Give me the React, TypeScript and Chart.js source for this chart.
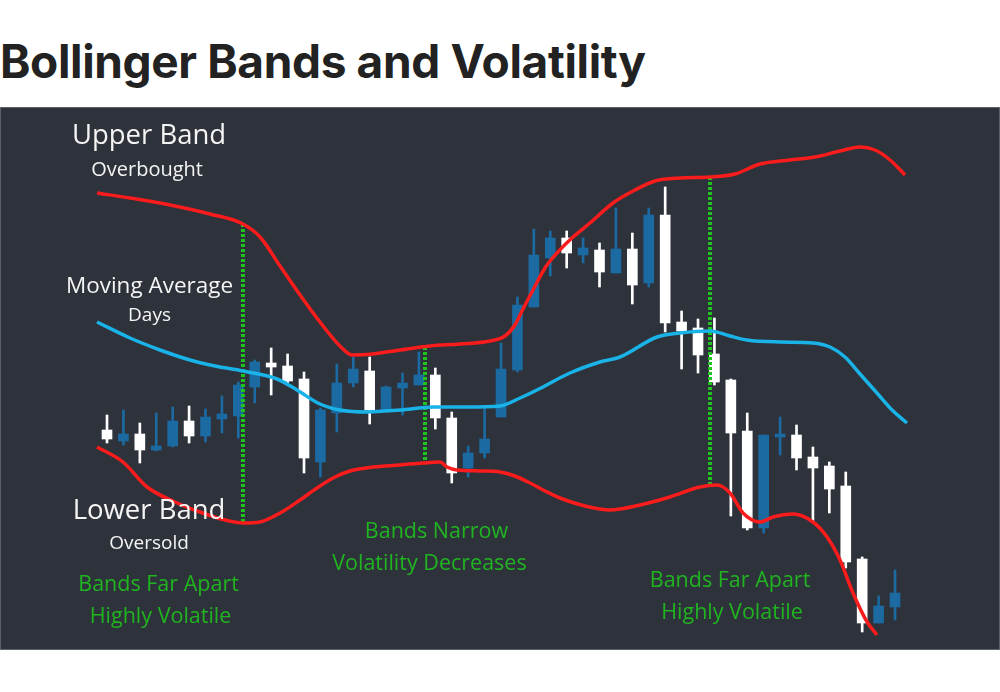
import React, { useEffect, useRef } from "react";
import { Chart, registerables } from "chart.js";

Chart.register(...registerables);

// ---- Candles (one per session, index 0..48) ----
const open = [44.0, 41.8, 43.2, 40.0, 40.8, 45.8, 42.8, 46.2, 46.8, 52.6, 57.4, 56.8, 54.2, 37.6, 47.4, 53.4, 55.8, 48.0, 52.4, 53.0, 55.0, 46.4, 36.4, 39.4, 46.6, 56.0, 68.6, 78.4, 82.4, 79.0, 80.0, 75.4, 80.2, 73.4, 87.0, 65.6, 64.4, 59.2, 54.0, 43.8, 24.4, 42.6, 43.0, 38.6, 36.8, 32.8, 18.2, 5.4, 8.6];
const close = [42.2, 43.2, 40.0, 40.8, 45.8, 42.8, 46.6, 47.2, 53.0, 57.6, 56.6, 53.8, 38.4, 48.0, 53.4, 56.2, 48.0, 52.6, 53.4, 55.0, 46.4, 35.4, 39.4, 42.2, 56.2, 69.0, 79.0, 82.4, 79.4, 80.4, 75.6, 80.2, 73.0, 87.0, 65.4, 63.8, 59.0, 53.6, 43.4, 24.4, 43.0, 43.2, 38.4, 36.4, 32.2, 17.6, 5.4, 8.8, 11.4];
const high = [47.0, 48.0, 45.4, 47.4, 48.6, 48.8, 48.2, 50.8, 53.6, 58.0, 60.4, 59.2, 55.6, 48.4, 57.2, 58.6, 58.6, 52.8, 55.4, 59.6, 56.4, 47.6, 40.8, 48.4, 61.4, 70.6, 84.2, 83.8, 83.8, 82.4, 81.4, 88.4, 83.4, 88.4, 92.6, 67.8, 66.2, 66.4, 54.2, 47.4, 43.0, 46.6, 45.0, 40.6, 37.6, 35.6, 18.6, 10.8, 16.0];
const low = [41.4, 41.0, 37.4, 39.8, 40.6, 41.4, 41.6, 43.4, 42.4, 49.4, 51.0, 53.0, 35.4, 34.6, 43.6, 52.6, 45.2, 47.8, 47.0, 53.0, 44.2, 33.4, 34.6, 38.4, 46.6, 55.6, 68.6, 74.8, 76.4, 77.4, 72.6, 75.4, 69.2, 72.6, 63.6, 56.2, 55.4, 53.0, 26.8, 24.0, 23.4, 39.0, 36.0, 25.6, 27.4, 16.4, 3.6, 5.4, 6.0];

// ---- Bands (x in session units, y in price) ----
const upperX = [-0.61, 1.4, 3.84, 6.27, 8.28, 9.32, 10.54, 11.76, 12.97, 14.19, 14.92, 16.2, 17.85, 19.67, 21.5, 23.33, 24.24, 24.85, 25.34, 25.95, 26.68, 27.41, 28.39, 29.42, 30.82, 32.16, 33.38, 34.9, 36.73, 38.25, 39.78, 41.6, 43.13, 44.65, 45.87, 46.78, 47.7, 48.61];
const upperY = [91.4, 90.4, 89.0, 87.2, 85.2, 82.6, 76.8, 71.0, 65.6, 60.8, 59.0, 59.2, 60.0, 60.8, 61.2, 61.8, 62.8, 65.0, 68.2, 72.0, 76.4, 79.4, 82.6, 85.4, 89.4, 92.0, 93.8, 94.4, 94.6, 95.2, 97.2, 98.0, 98.6, 99.8, 100.6, 100.0, 98.0, 95.0];

const lowerX = [-0.61, 0.97, 2.44, 4.14, 5.66, 7.19, 8.28, 9.32, 10.54, 11.76, 12.79, 13.89, 14.8, 16.2, 17.85, 19.25, 20.28, 20.71, 21.32, 22.72, 23.94, 24.85, 25.77, 26.68, 27.59, 29.11, 30.64, 32.47, 34.29, 36.12, 37.16, 37.95, 38.74, 39.78, 40.57, 41.79, 43.0, 43.86, 44.65, 45.44, 46.3, 46.9];
const lowerY = [40.6, 37.6, 32.6, 29.6, 27.6, 26.0, 25.4, 25.6, 27.4, 30.0, 32.4, 34.6, 35.8, 36.6, 37.0, 37.4, 37.6, 36.6, 36.0, 35.8, 35.6, 34.8, 33.4, 31.8, 30.4, 28.8, 28.0, 29.0, 30.6, 32.6, 33.0, 31.4, 27.4, 25.6, 26.6, 27.2, 25.6, 22.6, 18.0, 11.4, 5.6, 3.0];

const maX = [-0.61, 1.4, 3.23, 5.06, 6.58, 8.28, 10.36, 11.57, 12.97, 14.19, 15.84, 17.85, 19.86, 21.93, 23.94, 25.16, 26.19, 28.2, 30.03, 31.25, 33.5, 34.9, 36.73, 37.95, 38.98, 40.99, 43.0, 44.04, 44.95, 45.87, 46.9, 47.82, 48.73];
const maY = [65.6, 62.4, 60.0, 58.0, 56.8, 55.8, 54.2, 52.0, 49.2, 48.0, 47.6, 48.0, 48.6, 48.6, 48.8, 50.4, 52.0, 55.4, 57.6, 58.6, 62.6, 63.4, 63.8, 62.8, 62.0, 61.6, 61.4, 60.6, 58.6, 55.2, 51.4, 48.0, 45.4];

// ---- Dotted markers ----
const markerX = [8.28, 19.37, 36.73];
const markerTop = [85.2, 60.6, 94.6];
const markerBottom = [25.4, 37.6, 33.0];

// ---- Notes ----
const noteText = ["Upper Band", "Overbought", "Moving Average", "Days", "Lower Band", "Oversold", "Bands Far Apart", "Highly Volatile", "Bands Narrow", "Volatility Decreases", "Bands Far Apart", "Highly Volatile"];
const noteX = [2.56, 2.44, 2.59, 2.59, 2.56, 2.56, 3.14, 3.26, 20.07, 19.64, 37.95, 38.07];
const noteY = [102.8, 96.0, 72.6, 66.8, 27.8, 21.2, 13.0, 6.6, 23.6, 17.2, 13.8, 7.4];

const NOTE_STYLE = [
  { size: 27.5, color: "#f4f4f4" },
  { size: 20, color: "#f4f4f4" },
  { size: 22.5, color: "#f4f4f4" },
  { size: 19, color: "#f4f4f4" },
  { size: 27.5, color: "#f4f4f4" },
  { size: 19, color: "#f4f4f4" },
  { size: 21.5, color: "#20b420" },
  { size: 21.5, color: "#20b420" },
  { size: 21.5, color: "#20b420" },
  { size: 21.5, color: "#20b420" },
  { size: 21.5, color: "#20b420" },
  { size: 21.5, color: "#20b420" },
];

const X_MIN = -6.518;
const X_MAX = 54.395;
const Y_MIN = 0;
const Y_MAX = 108.6;

const BLUE = "#1b6aa2";
const WHITE = "#ffffff";
const RED = "#f81c1c";
const CYAN = "#19b3e8";
const GREEN = "#1fc41f";
const BG = "#2e323b";

const notePlugin = {
  id: "notes",
  afterDatasetsDraw(chart: any) {
    const { ctx, scales } = chart;
    ctx.save();
    ctx.textAlign = "center";
    ctx.textBaseline = "middle";
    noteText.forEach((t, i) => {
      const st = NOTE_STYLE[i];
      ctx.font = `${st.size}px "Open Sans"`;
      ctx.fillStyle = st.color;
      ctx.fillText(t, scales.x.getPixelForValue(noteX[i]), scales.y.getPixelForValue(noteY[i]));
    });
    ctx.restore();
  },
};

export default function App() {
  const ref = useRef<HTMLCanvasElement>(null);
  useEffect(() => {
    const canvas = ref.current;
    if (!canvas) return;
    const idx = open.map((_, i) => i);
    const colors = idx.map((i) => (close[i] > open[i] ? BLUE : WHITE));
    const lineBase = {
      type: "line" as const,
      pointRadius: 0,
      borderWidth: 3.5,
      fill: false,
      cubicInterpolationMode: "monotone" as const,
    };
    const markerSets = markerX.map((x, i) => ({
      type: "line" as const,
      label: "marker" + i,
      data: [
        { x, y: markerTop[i] },
        { x, y: markerBottom[i] },
      ],
      borderColor: GREEN,
      borderWidth: 4,
      borderDash: [3, 2],
      pointRadius: 0,
      order: 1,
    }));
    const chart = new Chart(canvas, {
      type: "bar",
      data: {
        datasets: [
          { ...lineBase, label: "Upper Band", data: upperX.map((x, i) => ({ x, y: upperY[i] })), borderColor: RED, order: 0 },
          { ...lineBase, label: "Lower Band", data: lowerX.map((x, i) => ({ x, y: lowerY[i] })), borderColor: RED, order: 0 },
          { ...lineBase, label: "Moving Average", data: maX.map((x, i) => ({ x, y: maY[i] })), borderColor: CYAN, order: 0 },
          ...markerSets,
          {
            type: "bar",
            label: "Body",
            data: idx.map((i) => ({ x: i, y: [open[i], close[i]] })),
            backgroundColor: colors,
            barThickness: 10,
            grouped: false,
            borderWidth: 0,
            order: 5,
          },
          {
            type: "bar",
            label: "Wick",
            data: idx.map((i) => ({ x: i, y: [low[i], high[i]] })),
            backgroundColor: colors,
            barThickness: 2,
            grouped: false,
            borderWidth: 0,
            order: 6,
          },
        ] as any,
      },
      options: {
        animation: false,
        responsive: false,
        maintainAspectRatio: false,
        events: [],
        layout: { padding: 0 },
        plugins: { legend: { display: false }, tooltip: { enabled: false }, title: { display: false } },
        scales: {
          x: { type: "linear", min: X_MIN, max: X_MAX, display: false, offset: false },
          y: { type: "linear", min: Y_MIN, max: Y_MAX, display: false },
        },
      } as any,
      plugins: [notePlugin],
    });
    return () => chart.destroy();
  }, []);

  return (
    <div style={{ position: "absolute", left: 0, top: 0, width: 1000, height: 692, background: "#ffffff", overflow: "hidden" }}>
      <div
        style={{
          position: "absolute",
          left: 0,
          top: 38,
          fontFamily: "Inter, sans-serif",
          fontWeight: 700,
          fontSize: 46,
          lineHeight: "46px",
          letterSpacing: "-0.35px",
          color: "#222222",
          whiteSpace: "nowrap",
        }}
      >
        Bollinger Bands and Volatility
      </div>
      <div
        style={{
          position: "absolute",
          left: 0,
          top: 107,
          width: 1000,
          height: 543,
          background: BG,
          boxShadow: "inset 0 0 0 1px #5c6068",
        }}
      >
        <canvas ref={ref} width={1000} height={543} style={{ display: "block", width: 1000, height: 543 }} />
      </div>
    </div>
  );
}
